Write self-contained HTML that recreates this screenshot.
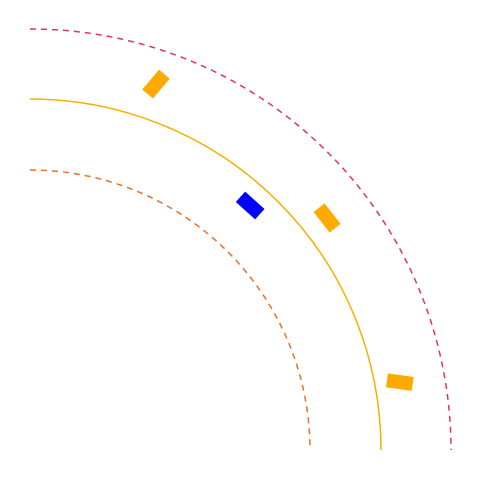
<!DOCTYPE html>
<html><head><meta charset="utf-8"><style>body{margin:0;background:#fff}svg{display:block}</style></head>
<body>
<svg id="c" width="480" height="480"></svg>
<script>
const laneNames=["inner-lane","center-lane","outer-lane"];
const laneRadii=[280,351,421];
const laneColors=["#e8702a","#f5b000","#e0336a"];
const laneDash=["6,5","","6,5"];
const vehicleNames=["vehicle-1","vehicle-ego","vehicle-2","vehicle-3"];
const vehicleR=[387,329,377,376];
const vehicleTheta=[71,48,38,10.4];
const vehicleHeading=[50,-42,-52,-8];
const vehicleColors=["#ffaa00","#0000ff","#ffaa00","#ffaa00"];
const cx=30,cy=450;
const svg=document.getElementById('c');
const NS="http://www.w3.org/2000/svg";
const px=(r,t)=>cx+r*Math.cos(t*Math.PI/180);
const py=(r,t)=>cy-r*Math.sin(t*Math.PI/180);
laneRadii.forEach((r,i)=>{
 const p=document.createElementNS(NS,'path');
 p.setAttribute('d',`M${px(r,90)},${py(r,90)} A${r},${r} 0 0 1 ${px(r,0)},${py(r,0)}`);
 p.setAttribute('fill','none');p.setAttribute('stroke',laneColors[i]);p.setAttribute('stroke-width','1.5');
 if(laneDash[i])p.setAttribute('stroke-dasharray',laneDash[i]);
 
 
 svg.appendChild(p);
});
vehicleR.forEach((r,i)=>{
 const x=px(r,vehicleTheta[i]),y=py(r,vehicleTheta[i]);
 const rect=document.createElementNS(NS,'rect');
 rect.setAttribute('x',x-13);rect.setAttribute('y',y-7);rect.setAttribute('width',26);rect.setAttribute('height',14);
 rect.setAttribute('fill',vehicleColors[i]);
 rect.setAttribute('transform',`rotate(${-vehicleHeading[i]} ${x} ${y})`);
 
 
 svg.appendChild(rect);
});
</script>
</body></html>
